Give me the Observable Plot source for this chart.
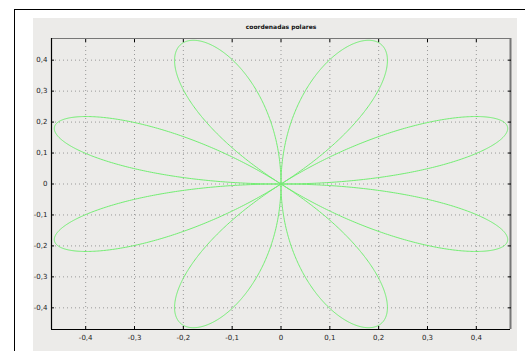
<!DOCTYPE html>
<html>
<head>
<meta charset="utf-8">
<script src="https://cdn.jsdelivr.net/npm/d3@7"></script>
<script src="https://cdn.jsdelivr.net/npm/@observablehq/plot@0.6"></script>
<style>
  html, body { margin: 0; padding: 0; background: #fff; }
  #wrap { position: relative; width: 525px; height: 351px; overflow: hidden; }
  .edge { position: absolute; background: #000; }
  #panel { position: absolute; left: 33px; top: 18px; width: 484px; height: 340px; background: #ecebe9; }
  #chart { position: absolute; left: 0; top: 0; }
  #chart svg { background: transparent; }
</style>
</head>
<body>
<div id="wrap">
  <div class="edge" style="left:14px;top:9px;right:0;height:1px"></div>
  <div class="edge" style="left:14px;top:9px;bottom:0;width:1px"></div>
  <div id="panel"></div>
  <div id="chart"></div>
</div>
<script>
// Rose curve r = a·sin(k·θ), eight petals
const title = "coordenadas polares";
const amplitude = [0.5];
const petalFactor = [4];
const xDomain = [-0.47, 0.47];
const yDomain = [-0.47, 0.47];
const xTicks = [-0.4, -0.3, -0.2, -0.1, 0, 0.1, 0.2, 0.3, 0.4];
const yTicks = [-0.4, -0.3, -0.2, -0.1, 0, 0.1, 0.2, 0.3, 0.4];

const steps = 2400;
const rose = d3.range(steps + 1).map(i => {
  const t = (2 * Math.PI * i) / steps;
  const r = amplitude[0] * Math.sin(petalFactor[0] * t);
  return {x: r * Math.cos(t), y: r * Math.sin(t)};
});

const fmt = d => String(d).replace(".", ",");
const blank = () => "";
const font = {fontSize: 7, fill: "#222"};

const chart = Plot.plot({
  width: 525,
  height: 351,
  marginLeft: 51,
  marginRight: 15,
  marginTop: 38,
  marginBottom: 22,
  style: {fontFamily: "DejaVu Sans, sans-serif", fontSize: "7px", background: "transparent"},
  x: {domain: xDomain, label: null},
  y: {domain: yDomain, label: null},
  marks: [
    Plot.gridX(xTicks, {stroke: "#999", strokeOpacity: 1, strokeDasharray: "1,3"}),
    Plot.gridY(yTicks, {stroke: "#999", strokeOpacity: 1, strokeDasharray: "1,3"}),
    Plot.line(rose, {x: "x", y: "y", stroke: "#72ee72", strokeWidth: 1, curve: "linear"}),
    Plot.ruleY([yDomain[1]], {stroke: "#777", strokeWidth: 1}),
    Plot.ruleX([xDomain[1]], {stroke: "#777", strokeWidth: 2}),
    Plot.ruleY([yDomain[0]], {stroke: "#000", strokeWidth: 1.2}),
    Plot.ruleX([xDomain[0]], {stroke: "#000", strokeWidth: 1.2}),
    Plot.axisX(xTicks, {anchor: "bottom", tickSize: -3, tickPadding: 9, tickFormat: fmt, stroke: "#000", ...font}),
    Plot.axisX(xTicks, {anchor: "top", tickSize: -3, tickFormat: blank, stroke: "#000"}),
    Plot.axisY(yTicks, {anchor: "left", tickSize: -3, tickPadding: 7, tickFormat: fmt, stroke: "#000", ...font}),
    Plot.axisY(yTicks, {anchor: "right", tickSize: -3, tickFormat: blank, stroke: "#000"}),
    Plot.text([title], {frameAnchor: "top", dy: -14, fontSize: 6, fontWeight: "bold", fill: "#111"})
  ]
});
document.getElementById("chart").appendChild(chart);
</script>
</body>
</html>
